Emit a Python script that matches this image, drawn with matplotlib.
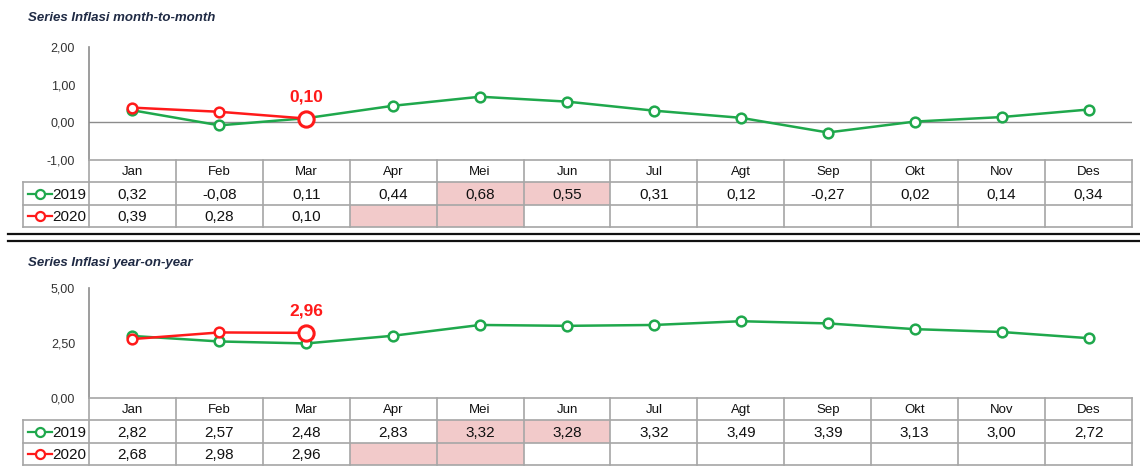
import matplotlib.pyplot as plt
from matplotlib.patches import Rectangle
from matplotlib.lines import Line2D

plt.rcParams['font.family'] = ['Liberation Sans', 'DejaVu Sans']

months = ['Jan', 'Feb', 'Mar', 'Apr', 'Mei', 'Jun', 'Jul', 'Agt', 'Sep', 'Okt', 'Nov', 'Des']
mtm_2019 = [0.32, -0.08, 0.11, 0.44, 0.68, 0.55, 0.31, 0.12, -0.27, 0.02, 0.14, 0.34]
mtm_2020 = [0.39, 0.28, 0.10]
yoy_2019 = [2.82, 2.57, 2.48, 2.83, 3.32, 3.28, 3.32, 3.49, 3.39, 3.13, 3.00, 2.72]
yoy_2020 = [2.68, 2.98, 2.96]
years = ['2019', '2020']
# (row, month index) of pink cells
pink_cells = [(0, 4), (0, 5), (1, 3), (1, 4)]

GREEN = '#1fa84c'
RED = '#ff1a1a'
GRID = '#a6a6a6'
PINK = '#f2caca'
TITLE_C = '#1f2a44'

W, H = 1140, 472
fig = plt.figure(figsize=(W / 100, H / 100), dpi=100)


def px_axes(x0, y0, x1, y1):
    return fig.add_axes([x0 / W, 1 - y1 / H, (x1 - x0) / W, (y1 - y0) / H])


def fmt(v):
    return f"{v:.2f}".replace('.', ',')


def draw_chart(top, bottom, ylim, yticks, s19, s20, title, title_y, zero_line):
    ax = px_axes(89, top, 1132, bottom)
    x = list(range(len(months)))
    ax.plot(x, s19, color=GREEN, lw=1.8, marker='o', ms=7, mfc='white',
            mec=GREEN, mew=1.8, zorder=3)
    x20 = list(range(len(s20)))
    ax.plot(x20, s20, color=RED, lw=1.8, marker='o', ms=7, mfc='white',
            mec=RED, mew=1.8, zorder=4)
    ax.plot(x20[-1], s20[-1], marker='o', ms=11, mfc='white', mec=RED,
            mew=2.2, zorder=5)
    ax.annotate(fmt(s20[-1]), (x20[-1], s20[-1]), xytext=(0, 10),
                textcoords='offset points', ha='center', va='bottom',
                color=RED, fontsize=12.5, fontweight='bold')
    if zero_line:
        ax.axhline(0, color='#8c8c8c', lw=1, zorder=1)
    ax.set_xlim(-0.5, len(months) - 0.5)
    ax.set_ylim(*ylim)
    ax.set_yticks(yticks)
    ax.set_yticklabels([fmt(t) for t in yticks], fontsize=9, color='#333333')
    ax.tick_params(axis='y', length=0, pad=10)
    ax.set_xticks([])
    for s in ['top', 'right', 'bottom']:
        ax.spines[s].set_visible(False)
    ax.spines['left'].set_color('#8c8c8c')
    ax.spines['left'].set_linewidth(1.2)
    fig.text(28 / W, 1 - title_y / H, title, fontsize=9.5, fontweight='bold',
             fontstyle='italic', color=TITLE_C, va='center', ha='left')
    return ax


def draw_table(top, bottom, s19, s20):
    tx = px_axes(23, top, 1132, bottom)
    left = -0.5 - 66 / 86.92
    n = len(months)
    tx.set_xlim(left, n - 0.5)
    tx.set_ylim(3, 0)
    tx.axis('off')
    for r, c in pink_cells:
        tx.add_patch(Rectangle((c - 0.5, r + 1), 1, 1, facecolor=PINK,
                               edgecolor='none', zorder=1))
    # grid
    tx.plot([-0.5, n - 0.5], [0, 0], color=GRID, lw=1.2, clip_on=False, zorder=2)
    for yy in (1, 2, 3):
        tx.plot([left, n - 0.5], [yy, yy], color=GRID, lw=1.2, clip_on=False, zorder=2)
    tx.plot([left, left], [1, 3], color=GRID, lw=1.2, clip_on=False, zorder=2)
    for k in range(n + 1):
        tx.plot([k - 0.5, k - 0.5], [0, 3], color=GRID, lw=1.2, clip_on=False, zorder=2)
    # header
    for i, m in enumerate(months):
        tx.text(i, 0.55, m, ha='center', va='center', fontsize=9.5, color='#111111')
    # values
    for r, series in enumerate([s19, s20]):
        for i, v in enumerate(series):
            tx.text(i, r + 1.55, fmt(v), ha='center', va='center', fontsize=11,
                    color='#111111')
    # legend cells
    for r, (yr, col) in enumerate(zip(years, [GREEN, RED])):
        yc = r + 1.5
        x0 = left + 0.06
        x1 = left + 0.33
        tx.plot([x0, x1], [yc, yc], color=col, lw=1.6, zorder=3)
        tx.plot([(x0 + x1) / 2], [yc], marker='o', ms=6.5, mfc='white', mec=col,
                mew=1.6, zorder=4)
        tx.text(x1 + 0.005, yc + 0.05, yr, ha='left', va='center', fontsize=11,
                color='#111111')
    return tx


draw_chart(47, 160, (-1, 2), [-1, 0, 1, 2], mtm_2019, mtm_2020,
           'Series Inflasi month-to-month', 18, True)
draw_table(160, 227, mtm_2019, mtm_2020)

draw_chart(288, 398, (0, 5), [0, 2.5, 5], yoy_2019, yoy_2020,
           'Series Inflasi year-on-year', 263, False)
draw_table(398, 465, yoy_2019, yoy_2020)

# double separator line
for yy in (234, 241):
    fig.add_artist(Line2D([8 / W, 1.0], [1 - yy / H, 1 - yy / H], color='#111111',
                          lw=1.6, transform=fig.transFigure))

fig.savefig('out.png', dpi=100)
